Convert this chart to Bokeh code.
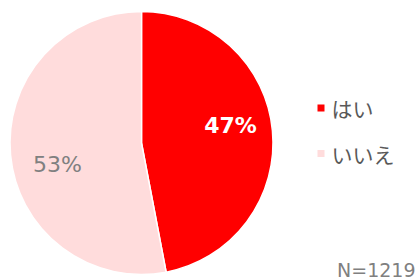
import numpy as np
from bokeh.plotting import figure
from bokeh.models import ColumnDataSource, Range1d
from bokeh.core.properties import value
from bokeh.embed import file_html
from bokeh.resources import INLINE

labels = ["はい", "いいえ"]
values = [47, 53]
colors = ["#FF0000", "#FFDCDC"]
pct_labels = ["47%", "53%"]
pct_colors = ["#FFFFFF", "#808080"]
pct_styles = ["bold", "normal"]
note = "N=1219"

W, H = 420, 280
CX, CY, R = 141, 137.5, 131.5

p = figure(width=W, height=H, output_backend="svg", toolbar_location=None,
           x_range=Range1d(0, W), y_range=Range1d(0, H), min_border=0)
p.axis.visible = False
p.grid.visible = False
p.outline_line_color = None
p.background_fill_color = "white"
p.border_fill_color = "white"

vals = np.array(values, dtype=float)
frac = vals / vals.sum()
cum = np.concatenate([[0], np.cumsum(frac)])
start = np.pi / 2 - 2 * np.pi * cum[:-1]
end = np.pi / 2 - 2 * np.pi * cum[1:]
mid = (start + end) / 2
ang_off = np.radians([5.7, 9.0])
rad_f = np.array([0.69, 0.66])

src = ColumnDataSource(dict(start=start, end=end, color=colors, label=labels))
p.wedge(x=CX, y=CY, radius=R, start_angle="start", end_angle="end", direction="clock",
        fill_color="color", line_color="white", line_width=1.5, source=src)

lab = ColumnDataSource(dict(
    x=CX + R * rad_f * np.cos(mid + ang_off),
    y=CY + R * rad_f * np.sin(mid + ang_off),
    text=pct_labels, color=pct_colors, style=pct_styles))
p.text(x="x", y="y", text="text", text_color="color", text_font_style="style",
       text_font=value("DejaVu Sans"), text_font_size="22px",
       text_align="center", text_baseline="middle", source=lab)

# legend
ly = 172.5 - 45.5 * np.arange(len(labels))
leg = ColumnDataSource(dict(x=[320.5] * len(labels), y=ly, color=colors, text=labels,
                            tx=[331] * len(labels)))
p.scatter(x="x", y="y", marker="square", size=7, fill_color="color", line_color=None, source=leg)
p.text(x="tx", y="y", text="text", text_color="#595959", text_font=value("Noto Sans CJK JP"),
       text_font_size="21px", text_align="left", text_baseline="middle", source=leg)

p.text(x=[415], y=[11], text=[note], text_color="#808080", text_font=value("DejaVu Sans"),
       text_font_size="19px", text_align="right", text_baseline="middle")

open("out.html", "w").write(file_html(p, INLINE))
